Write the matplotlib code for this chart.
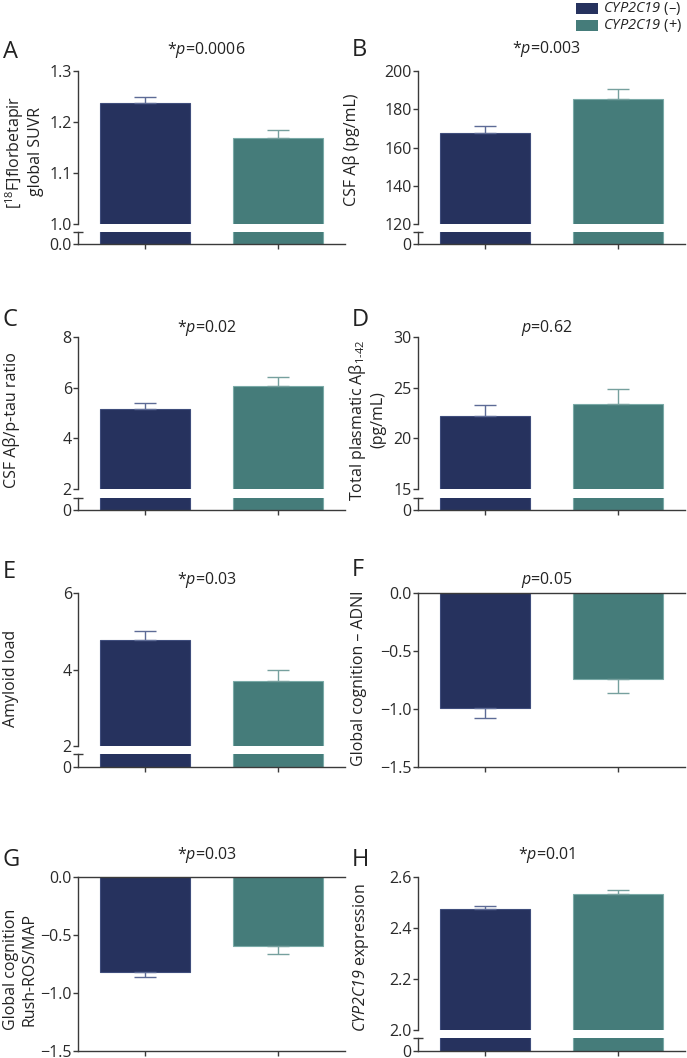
import numpy as np
import matplotlib
matplotlib.use('Agg')
import matplotlib.pyplot as plt
from matplotlib.patches import Rectangle

plt.rcParams['font.family'] = ['Open Sans', 'DejaVu Sans']
plt.rcParams['mathtext.fontset'] = 'custom'
plt.rcParams['mathtext.rm'] = 'Open Sans'
plt.rcParams['mathtext.it'] = 'Open Sans:italic'
plt.rcParams['mathtext.sf'] = 'Open Sans:italic'

W, H = 687, 1058

# ---- data ----
groups = ['$\\mathsf{CYP2C19}$ (–)', '$\\mathsf{CYP2C19}$ (+)']
panels = ['A', 'B', 'C', 'D', 'E', 'F', 'G', 'H']
titles = ['*$p$=0.0006', '*$p$=0.003', '*$p$=0.02', '$p$=0.62',
          '*$p$=0.03', '$p$=0.05', '*$p$=0.03', '*$p$=0.01']
ylabels = ['[$^{18}$F]florbetapir\nglobal SUVR', 'CSF Aβ (pg/mL)',
           'CSF Aβ/p-tau ratio', 'Total plasmatic Aβ$_{\\text{1-42}}$\n(pg/mL)',
           'Amyloid load', 'Global cognition – ADNI',
           'Global cognition\nRush-ROS/MAP', '$\\mathsf{CYP2C19}$ expression']
means = [[1.238, 1.168], [167.4, 185.5], [5.15, 6.07], [22.17, 23.38],
         [4.77, 3.71], [-0.99, -0.74], [-0.815, -0.592], [2.476, 2.532]]
sems = [[0.012, 0.016], [3.7, 5.2], [0.25, 0.35], [1.15, 1.47],
        [0.24, 0.28], [0.09, 0.12], [0.047, 0.073], [0.010, 0.017]]
# upper range of broken axes (None = plain axis)
upper_lims = [(1.0, 1.3), (120, 200), (2, 8), (15, 30), (2, 6), None, None, (2.0, 2.6)]
upper_ticks = [[1.0, 1.1, 1.2, 1.3], [120, 140, 160, 180, 200], [2, 4, 6, 8],
               [15, 20, 25, 30], [2, 4, 6], None, None, [2.0, 2.2, 2.4, 2.6]]
tick_fmt = ['{:.1f}', '{:.0f}', '{:.0f}', '{:.0f}', '{:.0f}', '{:.1f}', '{:.1f}', '{:.1f}']
zero_labels = ['0.0', '0', '0', '0', '0', None, None, '0']
neg_ticks = [-1.5, -1.0, -0.5, 0.0]

bar_colors = ['#26325e', '#457c7a']
edge_colors = ['#3f4d7c', '#7aaaa7']
err_colors = ['#5d6b96', '#76a09e']
axis_color = '#3a3a3a'


def px_axes(fig, left, top, right, bottom):
    return fig.add_axes([left / W, 1 - bottom / H, (right - left) / W, (bottom - top) / H])


fig = plt.figure(figsize=(W / 100, H / 100), dpi=100)

col_x = [(78, 345), (418, 685)]
# rows: (top, break_top, break_bottom, baseline)
rows = [(71, 224, 232, 244), (337, 489, 498, 510), (593, 746, 754, 767), (877, 1030, 1038, 1051)]
title_y = [50, 49, 328, 328, 580, 580, 855, 855]
label_y = [152, 150, 420, 420, 678, 678, 969, 958]
label_x = [3, 343, 3, 347, 3, 351, 3, 351]
letter_y = [52, 50, 320, 320, 572, 570, 860, 860]

xs = np.arange(2)
bw = 0.675

for i in range(8):
    r, c = divmod(i, 2)
    left, right = col_x[c]
    top, btop, bbot, base = rows[r]
    m, s = means[i], sems[i]

    def style(ax):
        ax.set_xlim(-0.5, 1.5)
        for sp in ['top', 'right']:
            ax.spines[sp].set_visible(False)
        for sp in ['left', 'bottom']:
            ax.spines[sp].set_color(axis_color)
            ax.spines[sp].set_linewidth(1.0)
        ax.tick_params(colors=axis_color, labelcolor='#2a2a2a', labelsize=11.5,
                       length=3.5, width=1.0, pad=1)
        ax.set_xticks(xs)
        ax.set_xticklabels([])

    if upper_lims[i] is not None:
        ax = px_axes(fig, left, top, right, btop)
        axl = px_axes(fig, left, bbot, right, base)
        style(ax)
        style(axl)
        ax.spines['bottom'].set_visible(False)
        ax.tick_params(axis='x', length=0)
        ax.set_ylim(*upper_lims[i])
        ax.set_yticks(upper_ticks[i])
        ax.set_yticklabels([tick_fmt[i].format(t) for t in upper_ticks[i]])
        axl.set_ylim(0, 1)
        axl.set_yticks([0])
        axl.set_yticklabels([zero_labels[i]])
        axl.plot([0], [1], marker='_', markersize=7, color=axis_color, mew=1.0,
                 transform=axl.transAxes, clip_on=False)
        for a in (ax, axl):
            a.bar(xs, m, width=bw, color=bar_colors, edgecolor=edge_colors, linewidth=0.8)
        for k in range(2):
            ax.errorbar(xs[k], m[k], yerr=[[0], [s[k]]], color=err_colors[k],
                        capsize=8, elinewidth=1.0, capthick=1.0, zorder=1)
    else:
        ax = px_axes(fig, left, top, right, base)
        style(ax)
        ax.spines['top'].set_visible(True)
        ax.spines['top'].set_color(axis_color)
        ax.spines['top'].set_linewidth(1.0)
        ax.set_ylim(-1.5, 0)
        ax.set_yticks(neg_ticks)
        ax.set_yticklabels([tick_fmt[i].format(t).replace('-', '\u2212') for t in neg_ticks])
        ax.bar(xs, m, width=bw, color=bar_colors, edgecolor=edge_colors, linewidth=0.8)
        for k in range(2):
            ax.errorbar(xs[k], m[k], yerr=[[s[k]], [0]], color=err_colors[k],
                        capsize=8, elinewidth=1.0, capthick=1.0, zorder=1)

    fig.text((left + right) / 2 / W - 5 / W, 1 - title_y[i] / H, titles[i],
             ha='center', va='center', fontsize=11.5, color='#222222')
    fig.text(label_x[i] / W, 1 - label_y[i] / H, ylabels[i], rotation=90,
             ha='left', va='center', multialignment='center', fontsize=11.5,
             color='#222222', linespacing=1.2)
    fig.text((3 if c == 0 else 352) / W, 1 - letter_y[i] / H, panels[i],
             ha='left', va='center', fontsize=17, color='#222222')

# legend
for k in range(2):
    y0 = 3 + 17 * k
    fig.patches.append(Rectangle((576 / W, 1 - (y0 + 11) / H), 22 / W, 11 / H,
                                 transform=fig.transFigure, facecolor=bar_colors[k],
                                 edgecolor='none'))
    fig.text(603 / W, 1 - (y0 + 5.5) / H, groups[k], ha='left', va='center',
             fontsize=10.5, color='#222222')

fig.savefig('out.png', dpi=100)
